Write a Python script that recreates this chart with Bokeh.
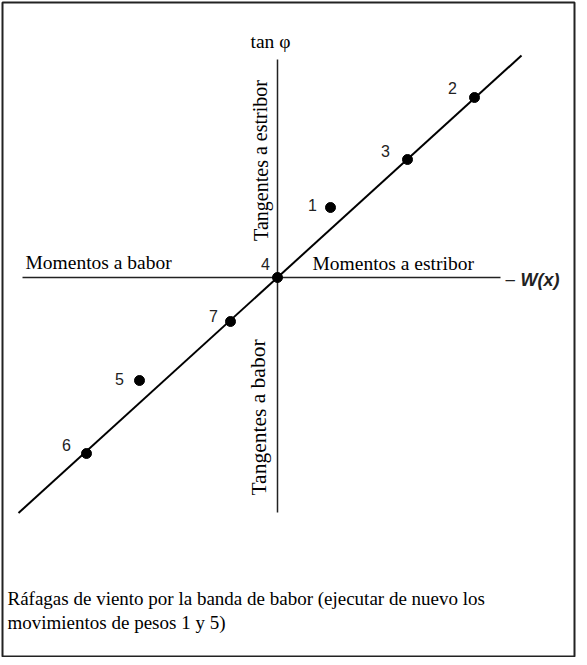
from bokeh.plotting import figure
from bokeh.models import ColumnDataSource, Range1d
from bokeh.core.properties import value
from bokeh.embed import file_html
from bokeh.resources import INLINE

# ---- data (W(x) horizontal, tan phi vertical; origin at point 4) ----
point_labels = ["1", "2", "3", "4", "5", "6", "7"]
w_x = [1.06, 3.94, 2.60, 0.0, -2.76, -3.82, -0.94]
tan_phi = [1.40, 3.60, 2.36, 0.0, -2.06, -3.52, -0.88]

trend_x = [-5.18, 4.88]
trend_y = [-4.71, 4.44]

axis_x_extent = [-5.1, 4.46]
axis_y_extent = [-4.7, 4.36]

title_y = "tan φ"
label_tan_pos = "Tangentes a estribor"
label_tan_neg = "Tangentes a babor"
label_mom_neg = "Momentos a babor"
label_mom_pos = "Momentos a estribor"
label_w = "W(x)"
caption_lines = ["Ráfagas de viento por la banda de babor (ejecutar de nuevo los",
                 "movimientos de pesos 1 y 5)"]

# label offsets (pixels, screen: +x right, +y down) for the point numbers
lab_dx = [-18, -22, -22, -12, -20, -20, -17]
lab_dy = [-3, -10, -9, -14, -2, -9, -6]

SERIF = value("Liberation Serif")
SANS = value("Liberation Sans")

p = figure(width=576, height=657, output_backend="svg", toolbar_location=None,
           x_axis_type=None, y_axis_type=None,
           x_range=Range1d(-5.5, 5.94), y_range=Range1d(-7.6, 5.5),
           min_border_left=2, min_border_top=2, min_border_right=2, min_border_bottom=0)
p.xgrid.visible = False
p.ygrid.visible = False
p.background_fill_color = "white"
p.border_fill_color = "white"
p.outline_line_color = "#222222"
p.outline_line_width = 2

# axes
p.line(axis_x_extent, [0, 0], line_color="#222222", line_width=1.5)
p.line([0, 0], axis_y_extent, line_color="#222222", line_width=1.5)

# trend line
p.line(trend_x, trend_y, line_color="black", line_width=2)

src = ColumnDataSource(dict(x=w_x, y=tan_phi, lab=point_labels, dx=lab_dx, dy=lab_dy))
p.scatter("x", "y", source=src, size=10, color="black")
p.text("x", "y", text="lab", source=src, x_offset="dx", y_offset="dy",
       text_align="center", text_baseline="middle", text_font=SANS,
       text_font_size="16px", text_color="#222222")

# axis titles / annotations
p.text([-0.14], [4.72], text=[title_y], text_font=SERIF, text_font_size="19.5px",
       text_align="center", text_baseline="middle", text_color="black")
p.text([-0.34], [2.34], text=[label_tan_pos], angle=1.5708, text_font=SERIF,
       text_font_size="20px", text_align="center", text_baseline="middle", text_color="black")
p.text([-0.38], [-2.8], text=[label_tan_neg], angle=1.5708, text_font=SERIF,
       text_font_size="21.5px", text_align="center", text_baseline="middle", text_color="black")
p.text([-5.04], [0.3], text=[label_mom_neg], text_font=SERIF, text_font_size="19.5px",
       text_align="left", text_baseline="middle", text_color="black")
p.text([0.7], [0.28], text=[label_mom_pos], text_font=SERIF, text_font_size="19.5px",
       text_align="left", text_baseline="middle", text_color="black")
p.text([4.56], [-0.04], text=["–"], text_font=SANS, text_font_size="17px",
       text_align="left", text_baseline="middle", text_color="#222222")
p.text([4.86], [-0.04], text=[label_w], text_font=SANS, text_font_size="18px",
       text_font_style="bold italic", text_align="left", text_baseline="middle",
       text_color="#222222")

# caption
p.text([-5.4, -5.4], [-6.42, -6.9], text=caption_lines, text_font=SERIF,
       text_font_size="19px", text_align="left", text_baseline="middle", text_color="black")

open("out.html", "w").write(file_html(p, INLINE))
